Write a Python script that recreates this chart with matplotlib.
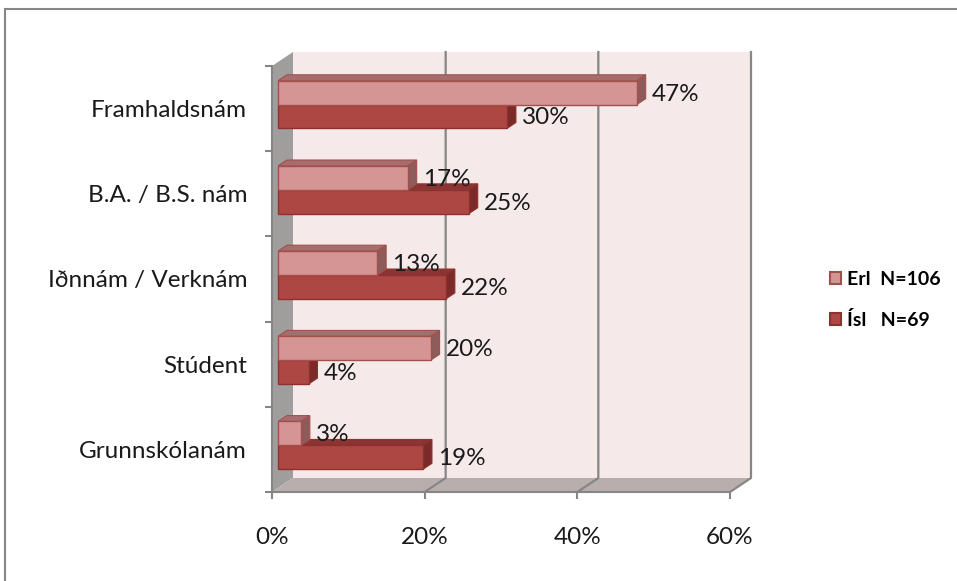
import matplotlib
matplotlib.use('Agg')
from matplotlib import pyplot as plt
from matplotlib.patches import Polygon, Patch, Rectangle
from matplotlib.transforms import IdentityTransform
import numpy as np

CATEGORIES = ['Framhaldsnám', 'B.A. / B.S. nám', 'Iðnnám / Verknám', 'Stúdent', 'Grunnskólanám']
ERL = [47, 17, 13, 20, 3]
ISL = [30, 25, 22, 4, 19]
SERIES = ['Erl  N=106', 'Ísl   N=69']
X_TICKS = [0, 20, 40, 60]

# colours per series: front, top, side, edge
ERL_COL = ('#D59594', '#A66D6D', '#8E5B5B', '#A2504D')
ISL_COL = ('#AC4744', '#8A3533', '#7A2A28', '#8E302D')

# fake 3d depth of the box in pixels, and where the bars sit inside it
DEPTH = np.array([21.0, 14.0])
BAR_D0, BAR_D1 = 0.29, 0.71
BAR_H = 0.28

plt.rcParams['font.family'] = ['Lato', 'DejaVu Sans']
GREY = '#868686'
TXT = '#1a1a1a'

fig = plt.figure(figsize=(9.57, 5.81), dpi=100)
ax = fig.add_axes([272 / 957, 89 / 581, 458 / 957, 426 / 581])
ax.set_xlim(0, 60)
ax.set_ylim(4.5, -0.5)
ax.set_facecolor('none')


def px(x, y, d=0.0):
    return ax.transData.transform((x, y)) + DEPTH * d


def face(pts, fc, ec='none', lw=0.0, z=1):
    ax.add_patch(Polygon(pts, closed=True, transform=IdentityTransform(), fc=fc, ec=ec,
                         lw=lw, zorder=z, clip_on=False))


# walls and floor
face([px(0, 4.5, 1), px(60, 4.5, 1), px(60, -0.5, 1), px(0, -0.5, 1)], '#F5E9E9', z=0.1)
face([px(0, 4.5, 0), px(0, 4.5, 1), px(0, -0.5, 1), px(0, -0.5, 0)], '#A09D9D', z=0.2)
face([px(0, 4.5, 0), px(60, 4.5, 0), px(60, 4.5, 1), px(0, 4.5, 1)], '#B9AEAE', z=0.2)

# gridlines on floor and back wall
for xv in X_TICKS[1:]:
    pts = np.array([px(xv, 4.5, 0), px(xv, 4.5, 1), px(xv, -0.5, 1)])
    ax.plot(pts[:, 0], pts[:, 1], color=GREY, lw=1.6, transform=IdentityTransform(),
            zorder=0.5, clip_on=False)


def bar3d(v, ya, yb, cols, z):
    front, top, side, edge = cols
    d0, d1 = BAR_D0, BAR_D1
    face([px(0, ya, d0), px(v, ya, d0), px(v, ya, d1), px(0, ya, d1)], top, edge, 0.8, z)
    face([px(v, yb, d0), px(v, ya, d0), px(v, ya, d1), px(v, yb, d1)], side, edge, 0.8, z)
    face([px(0, yb, d0), px(v, yb, d0), px(v, ya, d0), px(0, ya, d0)], front, edge, 1.0, z)


for i in reversed(range(len(CATEGORIES))):
    bar3d(ISL[i], i, i + BAR_H, ISL_COL, 2 + (4 - i) * 0.1)
    bar3d(ERL[i], i - BAR_H, i, ERL_COL, 2.05 + (4 - i) * 0.1)

# value labels
off = (DEPTH[0] * BAR_D0 + 15, DEPTH[1] * BAR_D0 - 1.5)
for i in range(len(CATEGORIES)):
    for v, yc in [(ERL[i], i - BAR_H / 2), (ISL[i], i + BAR_H / 2)]:
        ax.annotate(f'{v}%', (v, yc), xytext=off, textcoords='offset pixels',
                    ha='left', va='center', fontsize=17.5, color=TXT, zorder=5)

# axes
for s in ['top', 'right']:
    ax.spines[s].set_visible(False)
for s in ['left', 'bottom']:
    ax.spines[s].set_color(GREY)
    ax.spines[s].set_linewidth(1.5)
    ax.spines[s].set_zorder(3)
ax.set_xticks(X_TICKS)
ax.set_xticklabels([f'{t}%' for t in X_TICKS])
ax.set_yticks(np.arange(-0.5, 5, 1))
ax.set_yticklabels([])
ax.set_yticks(range(len(CATEGORIES)), minor=True)
ax.set_yticklabels(CATEGORIES, minor=True)
ax.tick_params(axis='both', which='major', length=5, width=1.5, color=GREY)
ax.tick_params(axis='x', pad=20, labelsize=17.5, labelcolor=TXT)
ax.tick_params(axis='y', which='minor', length=0, pad=18, labelsize=17.5, labelcolor=TXT)

# legend
handles = [Patch(fc=ERL_COL[0], ec=ERL_COL[3], lw=1.5), Patch(fc=ISL_COL[0], ec=ISL_COL[3], lw=1.5)]
fig.legend(handles, SERIES, loc='center left', bbox_to_anchor=(812 / 957, 1 - 300 / 581),
           frameon=False, handlelength=0.6, handleheight=0.6, handletextpad=0.3,
           labelspacing=1.2, prop={'size': 14, 'weight': 'bold'})

# outer chart border
fig.add_artist(Rectangle((5 / 957, -0.1), 2, 572 / 581 + 0.1, transform=fig.transFigure,
                         fill=False, ec=GREY, lw=1.5))

fig.savefig('out.png', dpi=100)
